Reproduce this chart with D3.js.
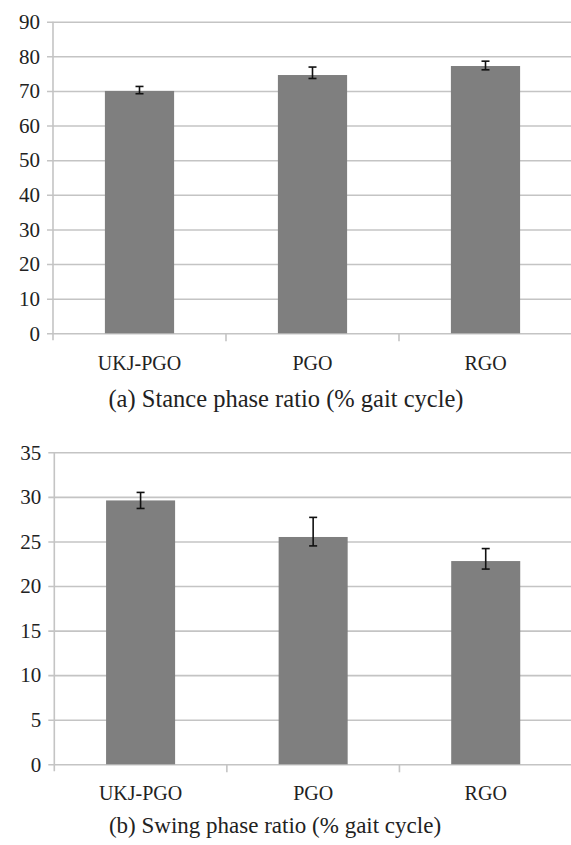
<!DOCTYPE html>
<html>
<head>
<meta charset="utf-8">
<script src="https://cdn.jsdelivr.net/npm/d3@7/dist/d3.min.js"></script>
<style>
  html, body { margin: 0; padding: 0; background: #fff; }
  svg { display: block; }
</style>
</head>
<body>
<svg id="chart" width="571" height="845"></svg>
<script>
// ---- data ----
const categories = ["UKJ-PGO", "PGO", "RGO"];

const stanceMean = [70.0, 74.6, 77.2];
const stanceErrUp = [1.3, 2.3, 1.4];
const stanceErrDown = [0.8, 1.0, 1.1];
const stanceTicks = [0, 10, 20, 30, 40, 50, 60, 70, 80, 90];
const stanceCaption = "(a) Stance phase ratio (% gait cycle)";

const swingMean = [29.6, 25.5, 22.8];
const swingErrUp = [0.9, 2.2, 1.4];
const swingErrDown = [0.9, 1.0, 0.9];
const swingTicks = [0, 5, 10, 15, 20, 25, 30, 35];
const swingCaption = "(b) Swing phase ratio (% gait cycle)";

const FONT = "'Liberation Serif', Tinos, 'Times New Roman', Times, 'DejaVu Serif', serif";

const svg = d3.select("#chart");

function panel(cfg) {
  const g = svg.append("g");
  const x = d3.scaleBand().domain(categories)
    .range([cfg.left, cfg.right]).paddingInner(0.6).paddingOuter(0.3);
  const y = d3.scaleLinear().domain([0, cfg.max]).range([cfg.y0, cfg.yTop]);
  const step = x.step();

  // y axis with gridlines
  const ax = g.append("g").attr("transform", `translate(${cfg.left},0)`)
    .call(d3.axisLeft(y).tickValues(cfg.ticks).tickSizeOuter(0).tickSizeInner(6).tickPadding(7));
  ax.attr("font-family", FONT).attr("font-size", 21);
  ax.select(".domain").remove();
  ax.selectAll(".tick line")
    .attr("x1", -6).attr("x2", cfg.right - cfg.left)
    .attr("stroke", "#c4c4c4").attr("stroke-width", 1.6);
  ax.selectAll(".tick text").attr("fill", "#222");

  // vertical axis line
  g.append("line")
    .attr("x1", cfg.left).attr("x2", cfg.left)
    .attr("y1", y(cfg.max)).attr("y2", y(0) + 7)
    .attr("stroke", "#c4c4c4").attr("stroke-width", 1.6);

  // category boundary ticks
  const bounds = categories.map((c, i) => cfg.left + step * (i + 1));
  g.selectAll("line.ctick").data(bounds).join("line")
    .attr("class", "ctick")
    .attr("x1", d => d).attr("x2", d => d)
    .attr("y1", y(0)).attr("y2", y(0) + 8)
    .attr("stroke", "#c4c4c4").attr("stroke-width", 1.6);

  // bars
  g.selectAll("rect.bar").data(categories).join("rect")
    .attr("class", "bar")
    .attr("x", d => x(d))
    .attr("width", x.bandwidth())
    .attr("y", (d, i) => y(cfg.mean[i]))
    .attr("height", (d, i) => y(0) - y(cfg.mean[i]))
    .attr("fill", "#7f7f7f");

  // error bars
  const eb = g.selectAll("g.err").data(categories).join("g").attr("class", "err");
  const cx = d => x(d) + x.bandwidth() / 2;
  eb.append("line")
    .attr("x1", cx).attr("x2", cx)
    .attr("y1", (d, i) => y(cfg.mean[i] + cfg.up[i]))
    .attr("y2", (d, i) => y(cfg.mean[i] - cfg.down[i]))
    .attr("stroke", "#111").attr("stroke-width", 1.6);
  eb.append("line")
    .attr("x1", d => cx(d) - 4).attr("x2", d => cx(d) + 4)
    .attr("y1", (d, i) => y(cfg.mean[i] + cfg.up[i]))
    .attr("y2", (d, i) => y(cfg.mean[i] + cfg.up[i]))
    .attr("stroke", "#111").attr("stroke-width", 1.6);
  eb.append("line")
    .attr("x1", d => cx(d) - 4).attr("x2", d => cx(d) + 4)
    .attr("y1", (d, i) => y(cfg.mean[i] - cfg.down[i]))
    .attr("y2", (d, i) => y(cfg.mean[i] - cfg.down[i]))
    .attr("stroke", "#111").attr("stroke-width", 1.6);

  // category labels
  g.selectAll("text.cat").data(categories).join("text")
    .attr("class", "cat")
    .attr("x", d => cx(d))
    .attr("y", cfg.catY)
    .attr("text-anchor", "middle")
    .attr("font-family", FONT)
    .attr("font-size", 20)
    .attr("fill", "#222")
    .text(d => d);

  // caption
  g.append("text")
    .attr("x", cfg.capX).attr("y", cfg.capY)
    .attr("text-anchor", "middle")
    .attr("font-family", FONT)
    .attr("font-size", cfg.capSize)
    .attr("fill", "#222")
    .text(cfg.caption);
}

panel({
  left: 53, right: 572, y0: 333.3, yTop: 21.7, max: 90,
  ticks: stanceTicks, mean: stanceMean, up: stanceErrUp, down: stanceErrDown,
  catY: 370, caption: stanceCaption, capX: 286, capY: 407, capSize: 24.5
});

panel({
  left: 54.3, right: 572, y0: 764.3, yTop: 452.3, max: 35,
  ticks: swingTicks, mean: swingMean, up: swingErrUp, down: swingErrDown,
  catY: 800, caption: swingCaption, capX: 275, capY: 833, capSize: 23
});
</script>
</body>
</html>
